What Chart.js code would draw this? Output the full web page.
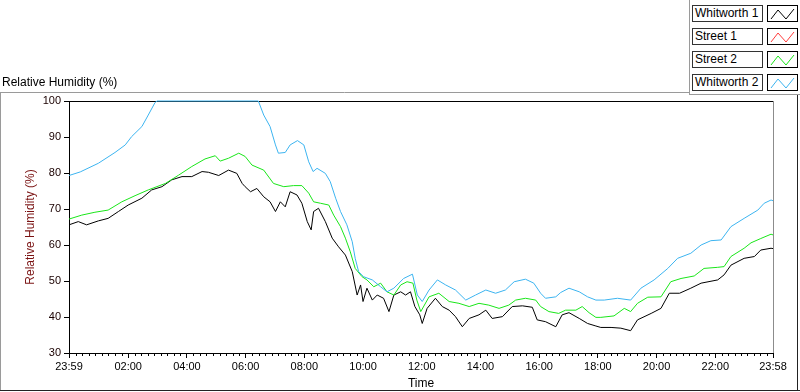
<!DOCTYPE html>
<html>
<head>
<meta charset="utf-8">
<script src="https://cdn.jsdelivr.net/npm/chart.js@4/dist/chart.umd.min.js"></script>
<style>
  body { margin: 0; background: #fff; font-family: "Liberation Sans", Arial, sans-serif; }
  #wrap { position: relative; width: 800px; height: 392px; overflow: hidden; }
  #grafico { position: absolute; left: 0; top: 0; }
  .titulo { position: absolute; left: 2px; top: 75px; font-size: 12px; line-height: 14px; color: #000; }
  .leyenda { position: absolute; height: 17px; box-sizing: border-box; border: 1px solid #333; background: #fff; }
  .leyenda.txt { left: 692px; width: 71px; font-size: 12px; line-height: 15px; padding-left: 2px; color: #000; }
  .leyenda.sw { left: 767px; width: 31px; border-color: #000; }
</style>
</head>
<body>
<div id="wrap">
  <canvas id="grafico" width="800" height="392"></canvas>
  <div class="titulo">Relative Humidity (%)</div>
  <div id="leyenda"></div>
</div>
<script>
// Datos (minutos desde las 23:59, valor en %)
const seriesNames = ['Whitworth 1', 'Street 1', 'Street 2', 'Whitworth 2'];
const seriesColors = ['#000000', '#ff3c3c', '#19e619', '#3cb4f0'];

const w1Minutes = [0, 19, 36, 60, 80, 101, 121, 149, 169, 190, 210, 231, 251, 272, 285, 306, 326, 343, 354, 360, 371, 384, 398, 411, 422, 432, 442, 452, 466, 476, 487, 495, 500, 510, 524, 538, 551, 565, 579, 589, 596, 601, 609, 620, 630, 643, 654, 664, 678, 688, 698, 707, 717, 722, 732, 749, 763, 777, 790, 804, 818, 838, 852, 865, 886, 906, 927, 947, 957, 974, 995, 1008, 1022, 1043, 1060, 1077, 1087, 1108, 1128, 1148, 1162, 1190, 1210, 1227, 1248, 1271, 1292, 1326, 1339, 1353, 1380, 1401, 1414, 1435, 1439];
const w1Values = [65.6, 66.5, 65.6, 66.7, 67.4, 69.3, 71.1, 73.0, 75.3, 76.2, 78.1, 79.0, 79.0, 80.4, 80.2, 79.3, 80.8, 79.9, 77.1, 76.2, 74.8, 75.7, 73.4, 72.0, 69.3, 72.0, 70.6, 74.8, 73.9, 71.6, 66.5, 64.2, 69.3, 70.2, 66.5, 61.9, 59.5, 57.2, 52.6, 46.1, 48.9, 44.3, 48.0, 44.7, 46.1, 45.2, 41.5, 46.1, 47.0, 46.1, 47.0, 42.9, 40.6, 38.2, 42.4, 45.2, 42.9, 41.9, 40.1, 37.3, 39.6, 40.6, 41.9, 39.6, 40.1, 42.9, 43.1, 42.7, 39.2, 38.7, 37.3, 40.6, 41.2, 39.6, 38.2, 37.5, 37.1, 37.1, 36.9, 36.2, 39.2, 41.0, 42.4, 46.6, 46.6, 48.0, 49.4, 50.3, 51.7, 54.4, 56.3, 56.8, 58.6, 59.1, 59.0];

const s1Minutes = [];
const s1Values = [];

const s2Minutes = [0, 26, 53, 80, 108, 135, 162, 197, 224, 251, 278, 299, 309, 326, 347, 360, 374, 398, 418, 439, 459, 476, 490, 500, 514, 531, 541, 555, 565, 575, 585, 599, 609, 623, 637, 650, 664, 678, 691, 703, 711, 719, 736, 756, 777, 797, 818, 838, 858, 879, 899, 913, 933, 954, 964, 981, 1001, 1015, 1036, 1049, 1063, 1077, 1087, 1114, 1135, 1148, 1162, 1183, 1210, 1230, 1251, 1278, 1298, 1326, 1339, 1353, 1380, 1394, 1414, 1435, 1439];
const s2Values = [67.2, 68.3, 69.1, 69.7, 72.0, 73.7, 75.3, 77.1, 79.4, 81.8, 83.9, 84.8, 83.3, 84.1, 85.5, 84.6, 82.2, 80.8, 77.1, 76.2, 76.5, 76.5, 74.4, 72.0, 71.6, 71.1, 68.3, 65.1, 61.9, 58.1, 53.5, 51.2, 50.3, 48.4, 49.4, 47.0, 46.1, 48.9, 49.8, 49.4, 44.7, 41.5, 45.6, 46.6, 44.3, 43.8, 42.9, 43.8, 43.3, 42.4, 43.3, 44.7, 45.2, 44.7, 42.9, 41.5, 41.0, 41.9, 41.9, 42.9, 41.2, 39.9, 39.9, 40.3, 42.4, 41.5, 43.8, 45.5, 45.6, 49.8, 50.7, 51.4, 53.5, 53.8, 54.0, 56.8, 59.1, 60.6, 61.8, 63.0, 62.8];

const w2Minutes = [0, 23, 60, 94, 115, 128, 149, 162, 176, 180, 387, 398, 411, 422, 428, 442, 452, 467, 480, 490, 499, 507, 524, 534, 545, 555, 568, 579, 585, 592, 602, 620, 637, 650, 664, 684, 702, 712, 722, 736, 753, 770, 790, 811, 831, 852, 872, 892, 910, 933, 950, 964, 974, 995, 1005, 1022, 1043, 1060, 1077, 1094, 1121, 1148, 1169, 1196, 1224, 1244, 1271, 1292, 1312, 1333, 1353, 1380, 1408, 1421, 1435, 1439];
const w2Values = [79.3, 80.3, 82.7, 85.7, 87.8, 90.1, 92.9, 96.1, 99.6, 100, 100, 96.1, 92.9, 87.8, 85.5, 85.7, 87.8, 89.0, 87.8, 83.1, 80.4, 81.3, 79.9, 77.6, 73.0, 69.3, 65.6, 60.9, 56.3, 52.6, 51.2, 50.3, 48.4, 47.0, 48.0, 50.7, 51.9, 46.1, 44.3, 47.5, 50.3, 48.9, 47.5, 44.7, 46.1, 47.5, 46.6, 47.5, 49.8, 50.5, 49.4, 46.6, 45.2, 45.6, 46.8, 48.0, 47.0, 45.6, 44.7, 44.7, 45.2, 44.7, 48.0, 50.3, 53.5, 56.3, 57.7, 60.0, 61.2, 61.4, 65.1, 67.4, 69.7, 71.6, 72.5, 72.3];

// Ejes
const tickMinutes = [0, 121, 241, 361, 481, 601, 721, 841, 961, 1081, 1201, 1321, 1439];
const tickLabels = ['23:59', '02:00', '04:00', '06:00', '08:00', '10:00', '12:00', '14:00', '16:00', '18:00', '20:00', '22:00', '23:58'];
const yMin = 30, yMax = 100, yStep = 10;

function armarPuntos(minutos, valores) {
  return minutos.map((m, i) => ({ x: m, y: valores[i] }));
}

const todos = [
  [w1Minutes, w1Values],
  [s1Minutes, s1Values],
  [s2Minutes, s2Values],
  [w2Minutes, w2Values]
];

// dibujar de atras hacia adelante: azul, verde, rojo, negro
const orden = [3, 2, 1, 0];
const datasets = orden.map(i => ({
  label: seriesNames[i],
  data: armarPuntos(todos[i][0], todos[i][1]),
  borderColor: seriesColors[i],
  borderWidth: 1,
  pointRadius: 0,
  tension: 0,
  fill: false,
  clip: 2
}));

// marcos, ticks menores y leyenda tipo LabVIEW
const marcos = {
  id: 'marcos',
  beforeDatasetsDraw(chart) {
    // borde superior negro y derecho gris del area (debajo de las lineas)
    const ctx = chart.ctx;
    const a = chart.chartArea;
    ctx.save();
    ctx.lineWidth = 1;
    ctx.strokeStyle = '#000';
    ctx.beginPath();
    ctx.moveTo(a.left, a.top + 0.5);
    ctx.lineTo(a.right, a.top + 0.5);
    ctx.stroke();
    ctx.strokeStyle = '#8c8c8c';
    ctx.beginPath();
    ctx.moveTo(a.right + 0.5, a.top);
    ctx.lineTo(a.right + 0.5, a.bottom);
    ctx.stroke();
    ctx.restore();
  },
  afterDraw(chart) {
    const ctx = chart.ctx;
    const a = chart.chartArea;
    const xs = chart.scales.x;
    ctx.save();
    ctx.lineWidth = 1;
    // ticks menores en x
    ctx.strokeStyle = '#000';
    ctx.beginPath();
    for (let i = 0; i < tickMinutes.length - 1; i++) {
      const d = (tickMinutes[i + 1] - tickMinutes[i]) / 9;
      for (let k = 1; k < 9; k++) {
        const px = Math.round(xs.getPixelForValue(tickMinutes[i] + k * d)) + 0.5;
        ctx.moveTo(px, a.bottom);
        ctx.lineTo(px, a.bottom + 3);
      }
    }
    ctx.stroke();
    // marco exterior
    ctx.strokeStyle = '#9a9a9a';
    ctx.beginPath();
    ctx.moveTo(0, 92.5); ctx.lineTo(689, 92.5);
    ctx.moveTo(689.5, 0); ctx.lineTo(689.5, 94);
    ctx.moveTo(689, 94.5); ctx.lineTo(800, 94.5);
    ctx.moveTo(0.5, 92); ctx.lineTo(0.5, 391);
    ctx.stroke();
    ctx.strokeStyle = '#222';
    ctx.beginPath();
    ctx.moveTo(0, 390.5); ctx.lineTo(800, 390.5);
    ctx.moveTo(797.5, 95); ctx.lineTo(797.5, 391);
    ctx.stroke();
    ctx.restore();
  }
};

new Chart(document.getElementById('grafico'), {
  type: 'line',
  data: { datasets },
  plugins: [marcos],
  options: {
    responsive: false,
    animation: false,
    layout: { padding: { top: 101, right: 27, bottom: 0, left: 0 } },
    plugins: { legend: { display: false }, tooltip: { enabled: false } },
    scales: {
      x: {
        type: 'linear',
        min: 0,
        max: 1439,
        afterFit: (s) => { s.height = 39; },
        afterBuildTicks: (s) => { s.ticks = tickMinutes.map(v => ({ value: v })); },
        ticks: {
          autoSkip: false,
          maxRotation: 0,
          padding: 2,
          color: '#000',
          font: { family: 'Liberation Sans', size: 11 },
          callback: (v, i) => tickLabels[i]
        },
        grid: { drawOnChartArea: false, drawTicks: true, tickLength: 5, tickColor: '#000', tickWidth: 1 },
        border: { display: true, color: '#000', width: 1 },
        title: {
          display: true,
          text: 'Time',
          color: '#000',
          font: { family: 'Liberation Sans', size: 12 },
          padding: { top: 0, bottom: 1 }
        }
      },
      y: {
        min: yMin,
        max: yMax,
        afterFit: (s) => { s.width = 69; },
        ticks: {
          stepSize: yStep,
          padding: 3,
          color: '#1a0000',
          font: { family: 'Liberation Sans', size: 11 }
        },
        grid: { drawOnChartArea: false, drawTicks: true, tickLength: 5, tickColor: '#000' },
        border: { display: true, color: '#000', width: 1 },
        title: {
          display: true,
          text: 'Relative Humidity (%)',
          color: '#7a1212',
          font: { family: 'Liberation Sans', size: 12 },
          padding: { top: 23, bottom: 0 }
        }
      }
    }
  }
});

// Leyenda
let leyenda = document.querySelector('#leyenda');
let html = '';
seriesNames.forEach((nombre, i) => {
  let top = 5 + i * 23;
  html += `<div class="leyenda txt" style="top:${top}px">${nombre}</div>` +
    `<div class="leyenda sw" style="top:${top}px"><svg width="29" height="15" style="display:block">` +
    `<polyline points="3,13 10,4 18,13 26,3" fill="none" stroke="${seriesColors[i]}" stroke-width="1"/></svg></div>`;
});
leyenda.innerHTML = html;
</script>
</body>
</html>
